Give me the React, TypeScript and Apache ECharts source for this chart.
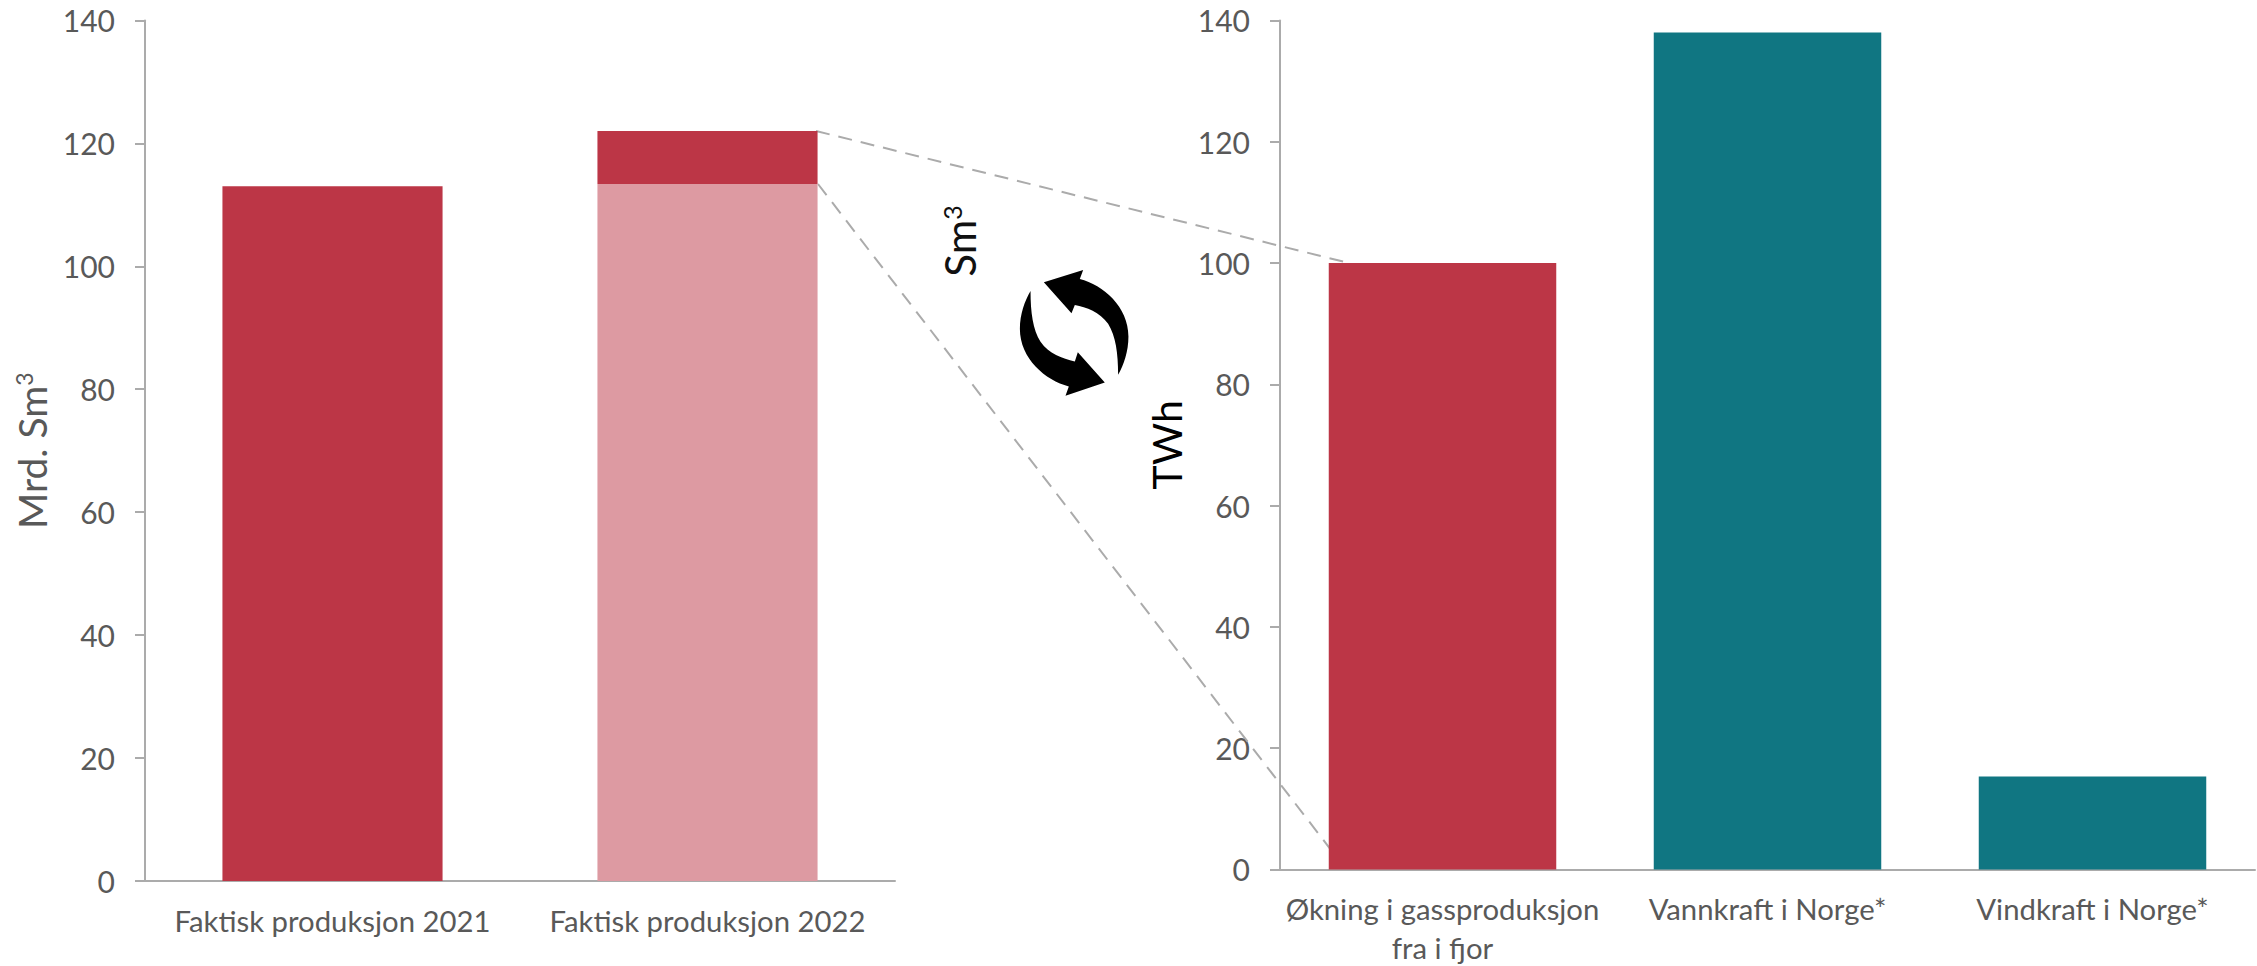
import React, { useEffect, useRef } from "react";
import * as echarts from "echarts";

const leftCategories = ["Faktisk produksjon 2021", "Faktisk produksjon 2022"];
const leftBase = [113, 113.4];
const leftTop = [0, 8.6];
const rightCategories = ["Økning i gassproduksjon\nfra i fjor", "Vannkraft i Norge*", "Vindkraft i Norge*"];
const rightValues = [100, 138, 15.3];
const yTicks = { min: 0, max: 140, interval: 20 };

const RED = "#BC3646";
const PINK = "#DD9AA2";
const TEAL = "#107682";
const GREY = "#595959";
const AXIS = "#ABABAB";
const FONT = "Lato";

const CYCLE_PATH =
  "M432 307 L550 270 L540 297 C610 315 686 380 686 470 C686 515 672 555 655 585 C655 520 648 470 625 432 C600 395 560 382 525 375 L515 400 Z " +
  "M615 608 L497 648 L507 620 C437 602 360 537 360 447 C360 402 375 362 392 333 C392 398 399 448 422 486 C447 523 487 536 525 545 L534 517 Z";

echarts.graphic.registerShape("cycleArrows", echarts.graphic.extendPath(CYCLE_PATH, {}) as any);

const valueAxis = (gridIndex: number, name: string, nameColor: string, nameSize: number, nameGap: number) => ({
  type: "value",
  gridIndex,
  ...yTicks,
  name,
  nameLocation: "middle",
  nameRotate: 90,
  nameGap,
  nameTextStyle: {
    color: nameColor,
    fontSize: nameSize,
    fontFamily: FONT,
    rich: {
      sup: { color: nameColor, fontSize: 23, fontFamily: FONT, verticalAlign: "top" },
    },
  },
  axisLine: { show: true, lineStyle: { color: AXIS, width: 2 } },
  axisTick: { show: true, length: 10, lineStyle: { color: AXIS, width: 2 } },
  axisLabel: { color: GREY, fontSize: 30, fontFamily: FONT, margin: 30 },
  splitLine: { show: false },
});

const categoryAxis = (gridIndex: number, data: string[]) => ({
  type: "category",
  gridIndex,
  data,
  axisLine: { show: true, lineStyle: { color: AXIS, width: 2 } },
  axisTick: { show: false },
  axisLabel: { color: GREY, fontSize: 29.3, fontFamily: FONT, margin: 20, lineHeight: 39, interval: 0 },
});

export default function App() {
  const ref = useRef<HTMLDivElement>(null);
  useEffect(() => {
    const chart = echarts.init(ref.current!, null, { renderer: "svg" });
    chart.setOption({
      animation: false,
      backgroundColor: "#ffffff",
      grid: [
        { left: 145, top: 20.4, width: 750, height: 860.6, outerBoundsMode: "none" },
        { left: 1280, top: 20.4, width: 975, height: 849, outerBoundsMode: "none" },
      ],
      xAxis: [categoryAxis(0, leftCategories), categoryAxis(1, rightCategories)],
      yAxis: [valueAxis(0, "Mrd. Sm{sup|3}", GREY, 39, 94), valueAxis(1, "TWh", "#000000", 41, 93)],
      series: [
        {
          type: "bar",
          xAxisIndex: 0,
          yAxisIndex: 0,
          stack: "a",
          barWidth: "58.7%",
          data: leftBase.map((v, i) => ({ value: v, itemStyle: { color: i === 0 ? RED : PINK } })),
        },
        {
          type: "bar",
          xAxisIndex: 0,
          yAxisIndex: 0,
          stack: "a",
          barWidth: "58.7%",
          data: leftTop,
          itemStyle: { color: RED },
        },
        {
          type: "bar",
          xAxisIndex: 1,
          yAxisIndex: 1,
          barWidth: "70%",
          data: rightValues.map((v, i) => ({ value: v, itemStyle: { color: i === 0 ? RED : TEAL } })),
        },
      ],
      graphic: [
        {
          type: "line",
          z: 1,
          shape: { x1: 816, y1: 131, x2: 1345, y2: 262 },
          style: { stroke: AXIS, lineWidth: 2, lineDash: [14, 9] },
        },
        {
          type: "line",
          z: 1,
          shape: { x1: 818, y1: 184, x2: 1348, y2: 872 },
          style: { stroke: AXIS, lineWidth: 2, lineDash: [14, 9] },
        },
        {
          type: "text",
          x: 960,
          y: 241,
          rotation: Math.PI / 2,
          style: {
            text: "Sm{sup|3}",
            fill: "#111111",
            fontSize: 42,
            fontFamily: FONT,
            align: "center",
            verticalAlign: "middle",
            rich: { sup: { fill: "#111111", fontSize: 25, fontFamily: FONT, verticalAlign: "top" } },
          },
        },
        {
          type: "cycleArrows",
          x: 900,
          y: 180,
          scaleX: 1 / 3,
          scaleY: 1 / 3,
          style: { fill: "#000000" },
        },
      ],
    });
    return () => chart.dispose();
  }, []);
  return <div ref={ref} style={{ position: "absolute", left: 0, top: 0, width: 2257, height: 966 }} />;
}
